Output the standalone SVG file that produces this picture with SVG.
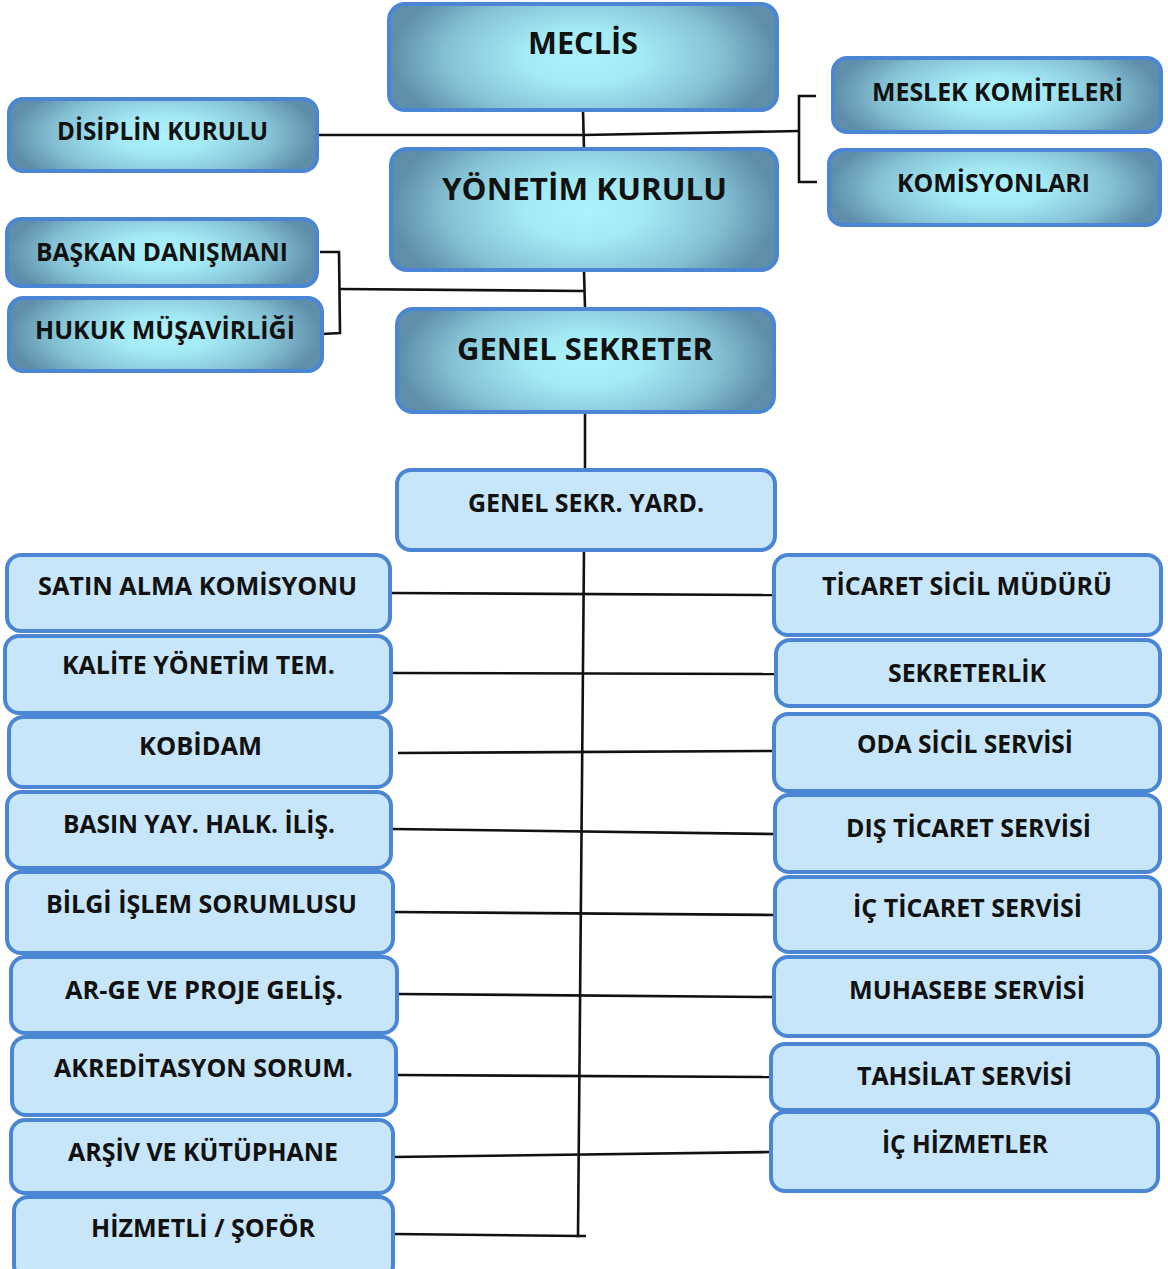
<svg xmlns="http://www.w3.org/2000/svg" width="1168" height="1269" viewBox="0 0 1168 1269">
<defs>
<radialGradient id="g" cx="0.5" cy="0.5" r="0.5" gradientTransform="translate(0.5,0.5) scale(1,1.7) translate(-0.5,-0.5)">
<stop offset="0" stop-color="#acf1fb"/>
<stop offset="0.3" stop-color="#a4eaf5"/>
<stop offset="0.7" stop-color="#86c2d5"/>
<stop offset="1" stop-color="#5e8ea9"/>
</radialGradient>
<style>
.dk{fill:url(#g);stroke:#4a86d3;stroke-width:4}
.lt{fill:#c7e6f9;stroke:#4a86d3;stroke-width:4}
text{font-family:"Open Sans","Noto Sans","DejaVu Sans",sans-serif;font-weight:700;fill:#111;text-anchor:middle}
.s{font-size:25px}
.b{font-size:30px}
.c{fill:none;stroke:#111;stroke-width:2.6;stroke-linejoin:miter}
</style>
</defs>
<g id="connectors">
<path class="c" d="M583 110 L584 149"/>
<path class="c" d="M317 135 L583 135 L799 131"/>
<path class="c" d="M816 96 L799 96 L799 182 L817 182"/>
<path class="c" d="M584 271 L585 308"/>
<path class="c" d="M320 252 L339 252 L340 333 L322 334"/>
<path class="c" d="M339 289 L585 291"/>
<path class="c" d="M585 414 L585 470"/>
<path class="c" d="M584 550 L578 1236 L586 1236"/>
<path class="c" d="M390 593 L775 595"/>
<path class="c" d="M392 673 L777 674"/>
<path class="c" d="M398 753 L773 751"/>
<path class="c" d="M392 829 L775 834"/>
<path class="c" d="M393 912 L775 915"/>
<path class="c" d="M398 994 L773 997"/>
<path class="c" d="M396 1075 L771 1077"/>
<path class="c" d="M393 1157 L771 1152"/>
<path class="c" d="M393 1234 L580 1236"/>
</g>
<g id="meclis"><rect class="dk" x="389" y="4" width="388" height="106" rx="16"/><text class="b" x="583" y="54" textLength="110" lengthAdjust="spacingAndGlyphs">MECLİS</text></g>
<g id="yonetim"><rect class="dk" x="391" y="149" width="386" height="121" rx="16"/><text class="b" x="584.5" y="200" textLength="285" lengthAdjust="spacingAndGlyphs">YÖNETİM KURULU</text></g>
<g id="genel-sekreter"><rect class="dk" x="397" y="309" width="377" height="103" rx="16"/><text class="b" x="585" y="360" textLength="256" lengthAdjust="spacingAndGlyphs">GENEL SEKRETER</text></g>
<g id="disiplin"><rect class="dk" x="9" y="99" width="308" height="72" rx="14"/><text class="s" x="162.5" y="140" textLength="211" lengthAdjust="spacingAndGlyphs">DİSİPLİN KURULU</text></g>
<g id="baskan"><rect class="dk" x="7" y="219" width="310" height="67" rx="14"/><text class="s" x="162" y="261" textLength="252" lengthAdjust="spacingAndGlyphs">BAŞKAN DANIŞMANI</text></g>
<g id="hukuk"><rect class="dk" x="9" y="298" width="313" height="73" rx="14"/><text class="s" x="165" y="339" textLength="260" lengthAdjust="spacingAndGlyphs">HUKUK MÜŞAVİRLİĞİ</text></g>
<g id="meslek"><rect class="dk" x="833" y="58" width="328" height="74" rx="14"/><text class="s" x="997.5" y="101" textLength="251" lengthAdjust="spacingAndGlyphs">MESLEK KOMİTELERİ</text></g>
<g id="komisyonlari"><rect class="dk" x="829" y="150" width="331" height="75" rx="14"/><text class="s" x="993.5" y="192" textLength="193" lengthAdjust="spacingAndGlyphs">KOMİSYONLARI</text></g>
<g id="genel-sekr-yard"><rect class="lt" x="397" y="470" width="378" height="80" rx="14"/><text class="s" x="586" y="512" textLength="236" lengthAdjust="spacingAndGlyphs">GENEL SEKR. YARD.</text></g>
<g id="satin-alma"><rect class="lt" x="7" y="555" width="383" height="76" rx="14"/><text class="s" x="197.5" y="595" textLength="319" lengthAdjust="spacingAndGlyphs">SATIN ALMA KOMİSYONU</text></g>
<g id="kalite"><rect class="lt" x="5" y="636" width="386" height="77" rx="14"/><text class="s" x="198.5" y="674" textLength="273" lengthAdjust="spacingAndGlyphs">KALİTE YÖNETİM TEM.</text></g>
<g id="kobidam"><rect class="lt" x="9" y="717" width="382" height="70" rx="14"/><text class="s" x="200.5" y="755" textLength="123" lengthAdjust="spacingAndGlyphs">KOBİDAM</text></g>
<g id="basin"><rect class="lt" x="7" y="792" width="384" height="76" rx="14"/><text class="s" x="199" y="833" textLength="272" lengthAdjust="spacingAndGlyphs">BASIN YAY. HALK. İLİŞ.</text></g>
<g id="bilgi"><rect class="lt" x="7" y="872" width="386" height="81" rx="14"/><text class="s" x="201.5" y="913" textLength="311" lengthAdjust="spacingAndGlyphs">BİLGİ İŞLEM SORUMLUSU</text></g>
<g id="arge"><rect class="lt" x="11" y="957" width="386" height="76" rx="14"/><text class="s" x="204" y="999" textLength="278" lengthAdjust="spacingAndGlyphs">AR-GE VE PROJE GELİŞ.</text></g>
<g id="akreditasyon"><rect class="lt" x="12" y="1037" width="384" height="78" rx="14"/><text class="s" x="203.5" y="1077" textLength="299" lengthAdjust="spacingAndGlyphs">AKREDİTASYON SORUM.</text></g>
<g id="arsiv"><rect class="lt" x="11" y="1120" width="382" height="73" rx="14"/><text class="s" x="203" y="1161" textLength="270" lengthAdjust="spacingAndGlyphs">ARŞİV VE KÜTÜPHANE</text></g>
<g id="hizmetli"><rect class="lt" x="14" y="1197" width="379" height="82" rx="14"/><text class="s" x="203" y="1237" textLength="224" lengthAdjust="spacingAndGlyphs">HİZMETLİ / ŞOFÖR</text></g>
<g id="ticaret-sicil"><rect class="lt" x="774" y="555" width="387" height="80" rx="14"/><text class="s" x="967" y="595" textLength="290" lengthAdjust="spacingAndGlyphs">TİCARET SİCİL MÜDÜRÜ</text></g>
<g id="sekreterlik"><rect class="lt" x="776" y="640" width="384" height="66" rx="14"/><text class="s" x="967" y="682" textLength="158" lengthAdjust="spacingAndGlyphs">SEKRETERLİK</text></g>
<g id="oda-sicil"><rect class="lt" x="774" y="714" width="386" height="77" rx="14"/><text class="s" x="965" y="753" textLength="216" lengthAdjust="spacingAndGlyphs">ODA SİCİL SERVİSİ</text></g>
<g id="dis-ticaret"><rect class="lt" x="775" y="795" width="385" height="77" rx="14"/><text class="s" x="968.5" y="837" textLength="245" lengthAdjust="spacingAndGlyphs">DIŞ TİCARET SERVİSİ</text></g>
<g id="ic-ticaret"><rect class="lt" x="775" y="877" width="385" height="75" rx="14"/><text class="s" x="967.5" y="917" textLength="229" lengthAdjust="spacingAndGlyphs">İÇ TİCARET SERVİSİ</text></g>
<g id="muhasebe"><rect class="lt" x="774" y="957" width="386" height="79" rx="14"/><text class="s" x="967" y="999" textLength="236" lengthAdjust="spacingAndGlyphs">MUHASEBE SERVİSİ</text></g>
<g id="tahsilat"><rect class="lt" x="771" y="1044" width="387" height="66" rx="14"/><text class="s" x="964.5" y="1085" textLength="215" lengthAdjust="spacingAndGlyphs">TAHSİLAT SERVİSİ</text></g>
<g id="ic-hizmetler"><rect class="lt" x="771" y="1112" width="387" height="79" rx="14"/><text class="s" x="965" y="1153" textLength="166" lengthAdjust="spacingAndGlyphs">İÇ HİZMETLER</text></g>
</svg>
